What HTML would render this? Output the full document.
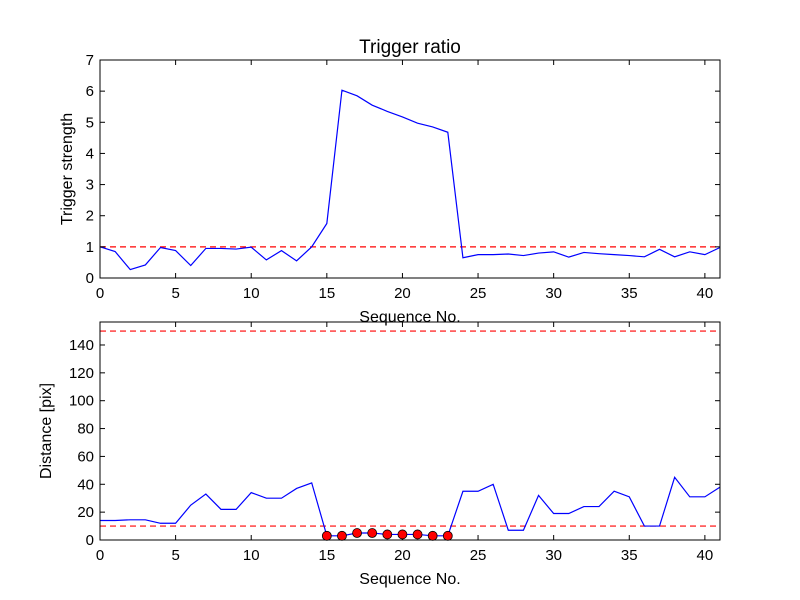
<!DOCTYPE html>
<html><head><meta charset="utf-8"><style>body{margin:0;background:#fff}svg{display:block;font-family:"Liberation Sans","DejaVu Sans",sans-serif}</style></head>
<body>
<svg id="c" width="800" height="600"></svg>
<script>
const seqTop = [];
for (let i = 0; i <= 41; i++) seqTop.push(i);
const triggerValues = [1.0,0.85,0.27,0.42,0.98,0.88,0.4,0.95,0.95,0.93,0.99,0.58,0.88,0.55,1.0,1.75,6.03,5.85,5.55,5.35,5.17,4.97,4.85,4.68,0.65,0.75,0.75,0.77,0.72,0.8,0.84,0.67,0.82,0.78,0.75,0.72,0.68,0.92,0.68,0.84,0.75,0.98];
const distanceValues = [14,14,14.5,14.5,12,12,25,33,22,22,34,30,30,37,41,3,3,5,5,4,4,4,3,3,35,35,40,7,7,32,19,19,24,24,35,31,10,10,45,31,31,38];
const markedIdx = [15,16,17,18,19,20,21,22,23];
const triggerThreshold = [1];
const distThresholds = [10,150];
const xTicks = [0,5,10,15,20,25,30,35,40];
const topYTicks = [0,1,2,3,4,5,6,7];
const botYTicks = [0,20,40,60,80,100,120,140];

const NS = "http://www.w3.org/2000/svg";
const svg = document.getElementById('c');
function mk(tag, attrs, parent) {
  const e = document.createElementNS(NS, tag);
  for (const k in attrs) e.setAttribute(k, attrs[k]);
  (parent || svg).appendChild(e);
  return e;
}
function panel(name, top, bottom, ymax, vals, ticks, thresholds, ylabel, title) {
  const L = 100, R = 720, xmax = 41;
  const g = mk('g', {});
  
  
  const sx = v => L + (R - L) * v / xmax;
  const sy = v => bottom - (bottom - top) * v / ymax;
  thresholds.forEach(t => {
    const l = mk('line', {x1: L, x2: R, y1: sy(t), y2: sy(t), stroke: '#ff0000', 'stroke-width': 1.2, 'stroke-dasharray': '6,4'}, g);
    
    
  });
  const p = mk('polyline', {fill: 'none', stroke: '#0000ff', 'stroke-width': 1.2, points: vals.map((v, i) => sx(seqTop[i]) + ',' + sy(v)).join(' ')}, g);
  
  
  const fr = mk('rect', {x: L, y: top, width: R - L, height: bottom - top, fill: 'none', stroke: '#000', 'stroke-width': 1}, g);
  
  
  xTicks.forEach(t => {
    mk('line', {x1: sx(t), x2: sx(t), y1: bottom, y2: bottom - 5, stroke: '#000'}, g);
    mk('line', {x1: sx(t), x2: sx(t), y1: top, y2: top + 5, stroke: '#000'}, g);
    const tx = mk('text', {x: sx(t), y: bottom + 20, 'text-anchor': 'middle', 'font-size': 15}, g);
    tx.textContent = t;
    
    
  });
  ticks.forEach(t => {
    mk('line', {x1: L, x2: L + 5, y1: sy(t), y2: sy(t), stroke: '#000'}, g);
    mk('line', {x1: R, x2: R - 5, y1: sy(t), y2: sy(t), stroke: '#000'}, g);
    const tx = mk('text', {x: L - 6, y: sy(t) + 5, 'text-anchor': 'end', 'font-size': 15}, g);
    tx.textContent = t;
    
    
  });
  const xl = mk('text', {x: 410, y: bottom + 44, 'text-anchor': 'middle', 'font-size': 16}, g);
  xl.textContent = 'Sequence No.';
  
  
  const cy = (top + bottom) / 2;
  const yl = mk('text', {x: 0, y: 0, transform: `translate(${name === 'top-panel' ? 72 : 51},${cy}) rotate(-90)`, 'text-anchor': 'middle', 'font-size': 16}, g);
  yl.textContent = ylabel;
  
  
  if (title) {
    const tt = mk('text', {x: 410, y: top - 7, 'text-anchor': 'middle', 'font-size': 19}, g);
    tt.textContent = title;
    
    
  }
  return {g, sx, sy};
}
panel('top-panel', 60, 278, 7, triggerValues, topYTicks, triggerThreshold, 'Trigger strength', 'Trigger ratio');
const b = panel('bottom-panel', 322, 540, 156.5, distanceValues, botYTicks, distThresholds, 'Distance [pix]', null);
markedIdx.forEach(i => {
  const c = mk('circle', {cx: b.sx(seqTop[i]), cy: b.sy(distanceValues[i]), r: 4.5, fill: '#ff0000', stroke: '#000', 'stroke-width': 0.8}, b.g);
  
  
});
</script>
</body></html>
